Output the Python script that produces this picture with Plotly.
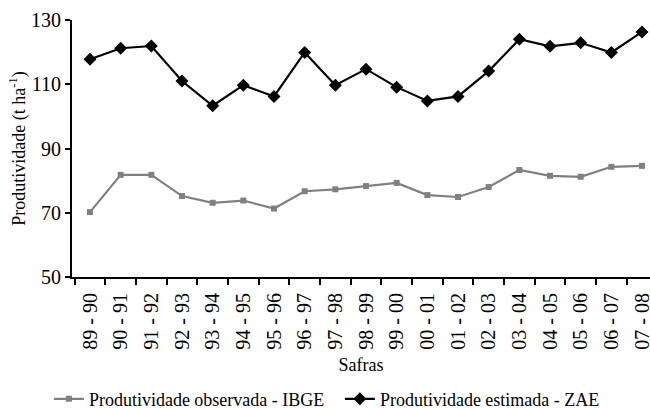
import plotly.graph_objects as go

safras = ["89 - 90", "90 - 91", "91 - 92", "92 - 93", "93 - 94", "94 - 95", "95 - 96",
          "96 - 97", "97 - 98", "98 - 99", "99 - 00", "00 - 01", "01 - 02", "02 - 03",
          "03 - 04", "04 - 05", "05 - 06", "06 - 07", "07 - 08"]
observada_ibge = [70.2, 81.8, 81.8, 75.2, 73.1, 73.8, 71.3, 76.7, 77.3, 78.3,
                  79.3, 75.5, 74.9, 78.0, 83.3, 81.5, 81.2, 84.3, 84.6]
estimada_zae = [117.8, 121.2, 121.9, 111.0, 103.3, 109.7, 106.2, 119.9, 109.7, 114.7,
                109.1, 104.8, 106.2, 114.1, 124.0, 121.8, 122.9, 119.9, 126.3]
y_ticks = [50, 70, 90, 110, 130]

font = "Liberation Serif"

fig = go.Figure()
fig.add_trace(go.Scatter(
    x=safras, y=observada_ibge, mode="lines+markers",
    name="Produtividade observada - IBGE",
    line=dict(color="#808080", width=2.2),
    marker=dict(symbol="square", size=6, color="#808080"),
))
fig.add_trace(go.Scatter(
    x=safras, y=estimada_zae, mode="lines+markers",
    name="Produtividade estimada - ZAE",
    line=dict(color="#000000", width=2.2),
    marker=dict(symbol="diamond", size=10, color="#000000"),
))

fig.update_layout(
    width=650, height=408,
    margin=dict(l=72, r=0, t=20, b=131, autoexpand=False),
    paper_bgcolor="white", plot_bgcolor="white",
    font=dict(family=font, size=18, color="black"),
    showlegend=True,
    legend=dict(orientation="h", x=-0.04, xref="paper", xanchor="left",
                y=-0.475, yanchor="middle", yref="paper",
                font=dict(family=font, size=18, color="black"),
                entrywidth=246, entrywidthmode="pixels",
                itemwidth=30, tracegroupgap=0),
    xaxis=dict(
        type="category", range=[-0.587, 18.26], automargin=False,
        tickson="boundaries", ticks="outside", ticklen=6, tickwidth=1.8,
        tickcolor="black", showline=True, linecolor="black", linewidth=2,
        tickangle=-90, showgrid=False, zeroline=False, ticklabelstandoff=6,
        tickfont=dict(family=font, size=20),
        title=dict(text="Safras", font=dict(family=font, size=18), standoff=10),
    ),
    yaxis=dict(
        range=[50, 130], tickvals=y_ticks, ticks="outside", ticklen=5,
        tickwidth=1.8, tickcolor="black", showline=True, linecolor="black",
        linewidth=2, showgrid=False, zeroline=False, automargin=False,
        tickfont=dict(family=font, size=20),
        title=dict(text="Produtividade (t ha<sup>-1</sup>)",
                   font=dict(family=font, size=18), standoff=1),
    ),
)

fig.write_html("out.html", config={"displayModeBar": False},
               post_script="document.body.style.margin='0';")
